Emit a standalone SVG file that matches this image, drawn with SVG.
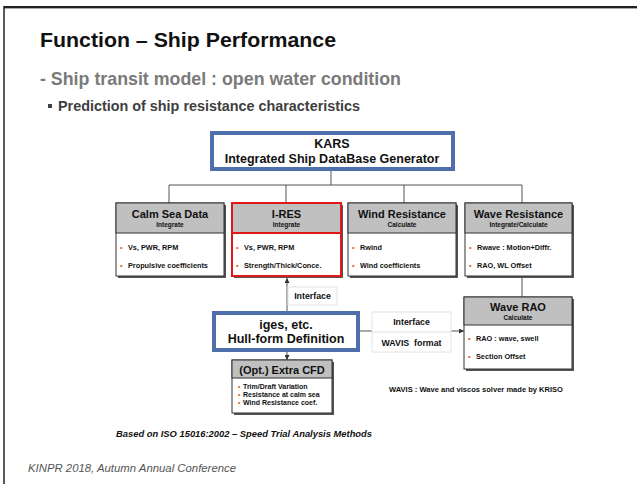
<svg xmlns="http://www.w3.org/2000/svg" width="637" height="484" viewBox="0 0 637 484">
<defs>
<style>
text{font-family:"Liberation Sans",Arial,sans-serif;font-weight:bold;fill:#111}
.ht{font-size:11px;text-anchor:middle}
.hs{font-size:6.5px;text-anchor:middle}
.bt{font-size:7.3px}
.dot{fill:#e2622a}
.box{fill:#fff;stroke:#333;stroke-width:1}
.hdr{fill:#c0c0c0;stroke:#333;stroke-width:1}
.sh{fill:#555}
.blue{fill:#fff;stroke:#4f6fac;stroke-width:4}
.conn{stroke:#555;stroke-width:1;fill:none}
.lbl{fill:#fff;stroke:#e4e4e4;stroke-width:1}
.lt{font-size:8.8px;text-anchor:middle}
</style>
<marker id="ah" viewBox="0 0 6 6" refX="6" refY="3" markerWidth="5" markerHeight="5" orient="auto-start-reverse" markerUnits="userSpaceOnUse">
<path d="M0,0 L6,3 L0,6 z" fill="#333"/>
</marker>
</defs>
<rect width="637" height="484" fill="#fff"/>
<!-- page border -->
<line x1="4" y1="7" x2="637" y2="7" stroke="#222" stroke-width="2"/>
<line x1="4" y1="8.5" x2="637" y2="8.5" stroke="#aaa" stroke-width="1"/>
<line x1="4" y1="6" x2="4" y2="484" stroke="#222" stroke-width="1.5"/>

<text x="40" y="47" font-size="21" textLength="296" lengthAdjust="spacingAndGlyphs">Function – Ship Performance</text>
<text x="40" y="85" font-size="18.5" style="fill:#7a7a7a" textLength="361" lengthAdjust="spacingAndGlyphs">- Ship transit model : open water condition</text>
<rect x="48" y="104" width="4" height="4" fill="#404040"/>
<text x="58" y="111" font-size="14.2" style="fill:#404040" textLength="302" lengthAdjust="spacingAndGlyphs">Prediction of ship resistance characteristics</text>

<g id="connectors">
<path class="conn" d="M331,171 V185 M169,185 H522 M169,185 V203 M286,185 V203 M404,185 V203 M522,185 V203"/>
<path class="conn" d="M522,277 V297"/>
<path class="conn" d="M287,311 V278" marker-end="url(#ah)"/>
<path class="conn" d="M360,331 H464" marker-end="url(#ah)"/>
<path class="conn" d="M287,352 V360" marker-end="url(#ah)"/>
</g>

<g id="kars">
<rect class="blue" x="212" y="133" width="241" height="36"/>
<text x="332" y="148" font-size="12.5" text-anchor="middle">KARS</text>
<text x="332" y="163" font-size="12.5" text-anchor="middle">Integrated Ship DataBase Generator</text>
</g>

<g id="calm">
<rect class="sh" x="118" y="205" width="108" height="73"/>
<rect class="box" x="116" y="203" width="108" height="73"/>
<rect class="hdr" x="116" y="203" width="108" height="30"/>
<text class="ht" x="170" y="218">Calm Sea Data</text>
<text class="hs" x="170" y="227">Integrate</text>
<text class="bt dot" x="120" y="250">•</text><text class="bt" x="128" y="250">Vs, PWR, RPM</text>
<text class="bt dot" x="120" y="268">•</text><text class="bt" x="128" y="268">Propulsive coefficients</text>
</g>

<g id="ires">
<rect class="sh" x="234" y="205" width="109" height="73"/>
<rect x="232" y="203" width="109" height="73" fill="#fff" stroke="#e01818" stroke-width="2"/>
<rect x="232" y="203" width="109" height="30" fill="#c0c0c0" stroke="#e01818" stroke-width="2"/>
<text class="ht" x="286.5" y="218">I-RES</text>
<text class="hs" x="286.5" y="227">Integrate</text>
<text class="bt dot" x="236" y="250">•</text><text class="bt" x="244" y="250">Vs, PWR, RPM</text>
<text class="bt dot" x="236" y="268">•</text><text class="bt" x="244" y="268">Strength/Thick/Conce.</text>
</g>

<g id="wind">
<rect class="sh" x="350" y="205" width="108" height="73"/>
<rect class="box" x="348" y="203" width="108" height="73"/>
<rect class="hdr" x="348" y="203" width="108" height="30"/>
<text class="ht" x="402" y="218">Wind Resistance</text>
<text class="hs" x="402" y="227">Calculate</text>
<text class="bt dot" x="352" y="250">•</text><text class="bt" x="360" y="250">Rwind</text>
<text class="bt dot" x="352" y="268">•</text><text class="bt" x="360" y="268">Wind coefficients</text>
</g>

<g id="wave">
<rect class="sh" x="467" y="205" width="107" height="73"/>
<rect class="box" x="465" y="203" width="107" height="73"/>
<rect class="hdr" x="465" y="203" width="107" height="30"/>
<text class="ht" x="518.5" y="218">Wave Resistance</text>
<text class="hs" x="518.5" y="227">Integrate/Calculate</text>
<text class="bt dot" x="469" y="250">•</text><text class="bt" x="477" y="250">Rwave : Motion+Diffr.</text>
<text class="bt dot" x="469" y="268">•</text><text class="bt" x="477" y="268">RAO, WL Offset</text>
</g>

<g id="waverao">
<rect class="sh" x="466" y="299" width="108" height="72"/>
<rect class="box" x="464" y="297" width="108" height="72"/>
<rect class="hdr" x="464" y="297" width="108" height="28"/>
<text class="ht" x="518" y="311" font-size="12">Wave RAO</text>
<text class="hs" x="518" y="320">Calculate</text>
<text class="bt dot" x="468" y="341">•</text><text class="bt" x="476" y="341">RAO : wave, swell</text>
<text class="bt dot" x="468" y="359">•</text><text class="bt" x="476" y="359">Section Offset</text>
</g>

<g id="lbl-interface1">
<rect class="lbl" x="288" y="287" width="49" height="18"/>
<text class="lt" x="312.5" y="299">Interface</text>
</g>

<g id="iges">
<rect class="blue" x="214" y="313" width="144" height="37"/>
<text x="286" y="329" font-size="12.5" text-anchor="middle">iges, etc.</text>
<text x="286" y="343" font-size="12.5" text-anchor="middle">Hull-form Definition</text>
</g>

<g id="lbl-interface2">
<rect class="lbl" x="372" y="312" width="79" height="20"/>
<rect class="lbl" x="372" y="332" width="79" height="20"/>
<text class="lt" x="411.5" y="325" font-size="9">Interface</text>
<text class="lt" x="411.5" y="346" font-size="9" xml:space="preserve">WAVIS  format</text>
</g>

<g id="cfd">
<rect class="sh" x="234" y="362" width="100" height="53"/>
<rect class="box" x="232" y="360" width="100" height="53"/>
<rect class="hdr" x="232" y="360" width="100" height="18"/>
<text x="282" y="374" font-size="11" text-anchor="middle">(Opt.) Extra CFD</text>
<text class="dot" x="238" y="389" font-size="7">•</text><text x="243" y="389" font-size="7">Trim/Draft Variation</text>
<text class="dot" x="238" y="397" font-size="7">•</text><text x="243" y="397" font-size="7">Resistance at calm sea</text>
<text class="dot" x="238" y="405" font-size="7">•</text><text x="243" y="405" font-size="7">Wind Resistance coef.</text>
</g>

<text x="389" y="392" font-size="7.5" textLength="174" lengthAdjust="spacingAndGlyphs">WAVIS : Wave and viscos solver made by KRISO</text>
<text x="116" y="437" font-size="9.5" font-style="italic" textLength="256" lengthAdjust="spacingAndGlyphs">Based on ISO 15016:2002 – Speed Trial Analysis Methods</text>
<text x="28" y="472" font-size="11.3" font-style="italic" style="font-weight:normal;fill:#555" textLength="208" lengthAdjust="spacingAndGlyphs">KINPR 2018, Autumn Annual Conference</text>
</svg>
